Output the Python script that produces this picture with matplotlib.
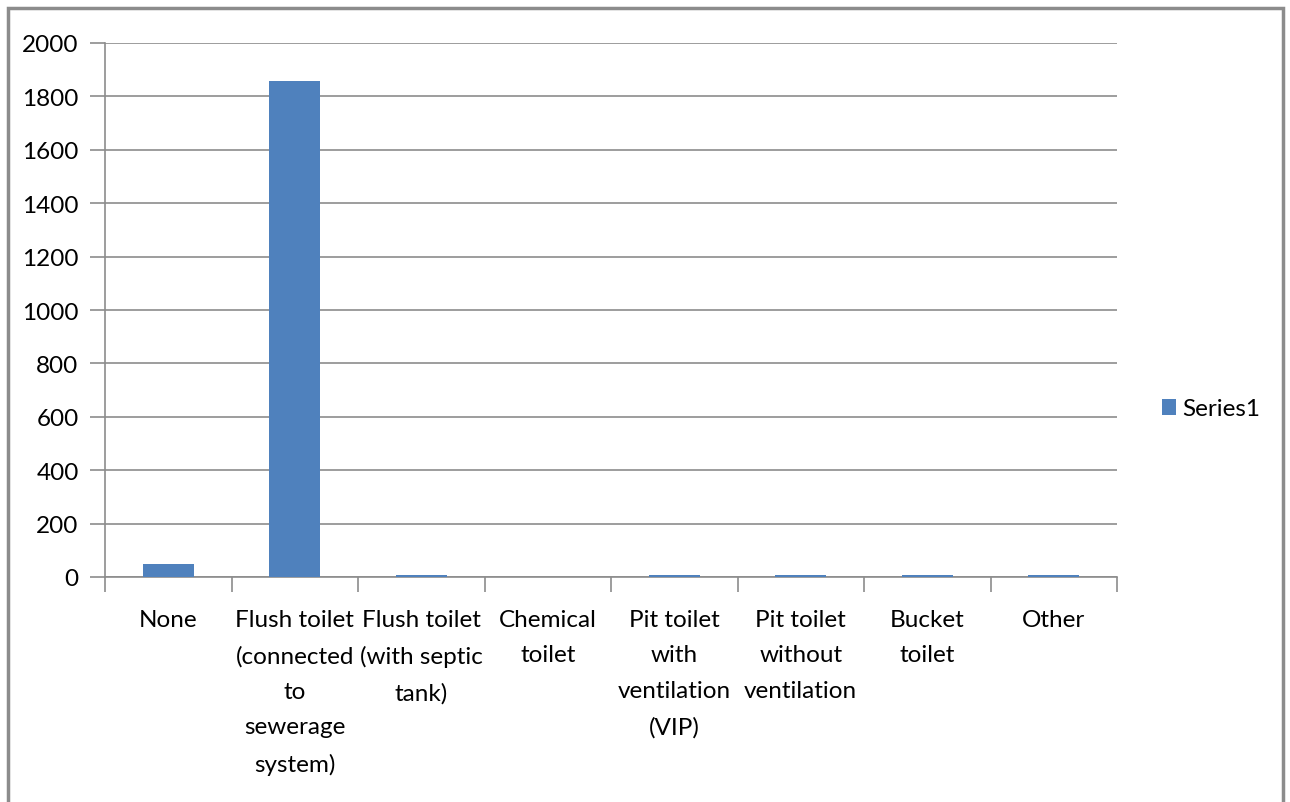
import matplotlib
matplotlib.use("Agg")
from matplotlib import pyplot as plt
from matplotlib.patches import Rectangle
import numpy as np

categories = ["None", "Flush toilet\n(connected\nto\nsewerage\nsystem)",
              "Flush toilet\n(with septic\ntank)", "Chemical\ntoilet",
              "Pit toilet\nwith\nventilation\n(VIP)", "Pit toilet\nwithout\nventilation",
              "Bucket\ntoilet", "Other"]
values = [48, 1858, 9, 0, 8, 8, 8, 8]
yticks = [0, 200, 400, 600, 800, 1000, 1200, 1400, 1600, 1800, 2000]
series_name = "Series1"

plt.rcParams['font.family'] = ['Lato', 'DejaVu Sans']
W, H = 1290, 803
fig = plt.figure(figsize=(W / 100, H / 100), dpi=100)
fig.patch.set_facecolor("white")

# outer chart border
fig.patches.append(Rectangle((8 / W, -0.05), 1275 / W, 1.05 - 9 / H, transform=fig.transFigure,
                             fill=False, edgecolor="#8c8c8c", linewidth=2.5))

ax = fig.add_axes([105 / W, 225 / H, 1012 / W, 534 / H])
x = np.arange(len(categories))
ax.bar(x, values, width=0.4, color="#4F81BD", zorder=3, label=series_name)

ax.set_xlim(-0.5, len(categories) - 0.5)
ax.set_ylim(0, 2000)
ax.set_yticks(yticks)
ax.set_yticklabels([str(v) for v in yticks], fontsize=17.5)
ax.yaxis.grid(True, color="#8c8c8c", linewidth=1.2, zorder=0)
ax.tick_params(axis="y", length=11, color="#8c8c8c", width=1.2, pad=8)

ax.set_xticks(x)
ax.set_xticklabels(categories, fontsize=17.5, linespacing=1.85)
ax.set_xticks(np.arange(len(categories) + 1) - 0.5, minor=True)
ax.tick_params(axis="x", which="major", length=0, pad=23)
ax.tick_params(axis="x", which="minor", length=11, color="#8c8c8c", width=1.2)

for s in ["top", "right"]:
    ax.spines[s].set_visible(False)
for s in ["left", "bottom"]:
    ax.spines[s].set_color("#8c8c8c")
    ax.spines[s].set_linewidth(1.2)

fig.legend(loc="center left", bbox_to_anchor=(1140 / W, 1 - 410 / H), frameon=False,
           fontsize=17.5, handlelength=0.6, handleheight=0.6, handletextpad=0.25)

fig.savefig("out.png", dpi=100)
